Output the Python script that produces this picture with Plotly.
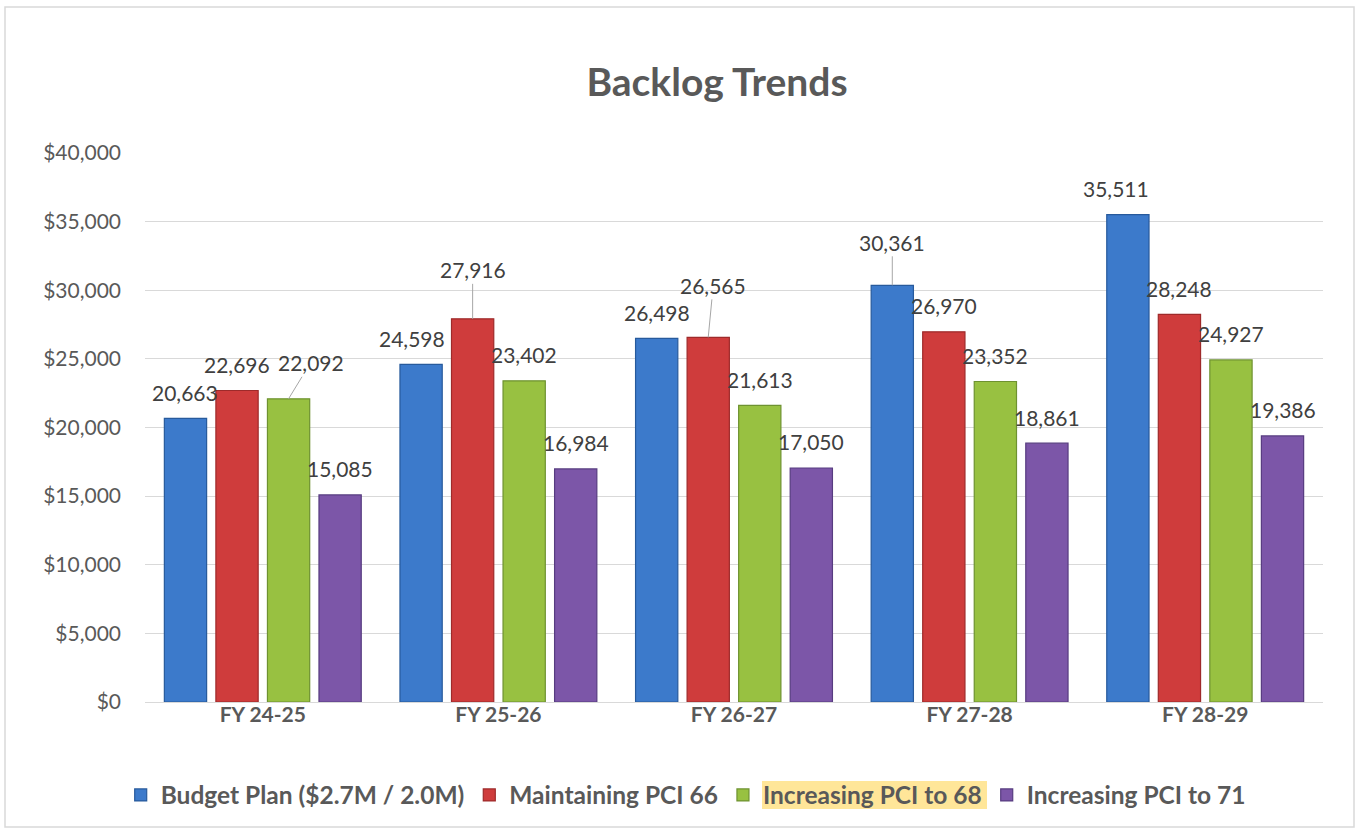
import plotly.graph_objects as go

# ---- data -------------------------------------------------------------
years = ["FY 24-25", "FY 25-26", "FY 26-27", "FY 27-28", "FY 28-29"]
series_names = [
    "Budget Plan ($2.7M / 2.0M)",
    "Maintaining PCI 66",
    "Increasing PCI to 68",
    "Increasing PCI to 71",
]
budget_plan = [20663, 24598, 26498, 30361, 35511]
maintain_66 = [22696, 27916, 26565, 26970, 28248]
increase_68 = [22092, 23402, 21613, 23352, 24927]
increase_71 = [15085, 16984, 17050, 18861, 19386]
y_ticks = [0, 5000, 10000, 15000, 20000, 25000, 30000, 35000, 40000]

all_values = [budget_plan, maintain_66, increase_68, increase_71]

# ---- styling ----------------------------------------------------------
fills = ["#3C7ACB", "#CF3C3C", "#98C141", "#7C56A8"]
edges = ["#275A9C", "#9E2A2A", "#6E9230", "#573C80"]

W, H = 1359, 832
ML, MR, MT, MB = 145, 36, 153, 130
BARGAP, GROUPGAP = 0.125, 0.18
FONT = "Lato"

# label offsets (dx, dy in px, leader line flag) per series / year
label_pos = {
    (0, 1): (-9, -26, False),
    (1, 0): (0, -26, False),
    (2, 0): (22, -36, True),
    (1, 1): (0, -49, True),
    (1, 2): (5, -52, True),
    (0, 3): (0, -43, True),
    (0, 4): (-12, -26, False),
}

fig = go.Figure()
for i, (name, vals) in enumerate(zip(series_names, all_values)):
    fig.add_trace(go.Bar(
        x=years, y=vals, name=name,
        marker=dict(color=fills[i], line=dict(color=edges[i], width=1.2)),
        hoverinfo="x+y+name",
    ))

# value labels above each bar
plot_w = W - ML - MR
pitch = plot_w / len(years) * (1 - BARGAP) / len(series_names)
annotations = []
for i, vals in enumerate(all_values):
    xs = (i - (len(series_names) - 1) / 2) * pitch
    for j, v in enumerate(vals):
        dx, dy, leader = label_pos.get((i, j), (0, -26, False))
        txt = f"{v:,}"
        font = dict(family=FONT, size=21, color="#404040")
        if leader:
            annotations.append(dict(
                x=years[j], y=v, xref="x", yref="y", xshift=xs,
                text=txt, font=font, showarrow=True, arrowhead=0,
                arrowwidth=1, arrowcolor="#A6A6A6", ax=dx, ay=dy,
                standoff=0,
            ))
        else:
            annotations.append(dict(
                x=years[j], y=v, xref="x", yref="y",
                xshift=xs + dx, yshift=-dy, yanchor="middle",
                text=txt, font=font, showarrow=False,
            ))

def px_x(p):
    return (p - ML) / plot_w

def px_y(p):
    return (H - MB - p) / (H - MT - MB)

shapes = [
    # outer chart border
    dict(type="rect", xref="paper", yref="paper",
         x0=px_x(5), x1=px_x(1354), y0=px_y(827), y1=px_y(7),
         line=dict(color="#D9D9D9", width=1.5), fillcolor="rgba(0,0,0,0)",
         layer="below"),
    # highlight behind the third legend entry
    dict(type="rect", xref="paper", yref="paper",
         x0=px_x(762), x1=px_x(987), y0=px_y(809), y1=px_y(781),
         line=dict(width=0), fillcolor="#FFE699", layer="above"),
]

fig.update_layout(
    width=W, height=H,
    margin=dict(l=ML, r=MR, t=MT, b=MB),
    paper_bgcolor="white", plot_bgcolor="white",
    barmode="group", bargap=BARGAP, bargroupgap=GROUPGAP,
    title=dict(text="<b>Backlog Trends</b>", x=717 / W, xanchor="center",
               y=1 - 82 / H, yanchor="middle",
               font=dict(family=FONT, size=39, color="#595959")),
    font=dict(family=FONT, color="#595959"),
    showlegend=True,
    legend=dict(orientation="h", x=0.459, xanchor="center",
                y=px_y(795), yanchor="middle",
                font=dict(family=FONT, size=24.5, color="#595959",
                          weight="bold"),
                itemwidth=30, bgcolor="rgba(0,0,0,0)"),
    annotations=annotations,
    shapes=shapes,
)
fig.update_xaxes(
    showgrid=False, showline=True, linecolor="#D9D9D9", linewidth=1,
    ticks="", tickfont=dict(family=FONT, size=21, color="#595959",
                            weight="bold"),
    ticklabelstandoff=-6,
)
fig.update_yaxes(
    range=[0, 40000], tickvals=y_ticks,
    ticktext=[f"${v:,}" for v in y_ticks],
    showgrid=True, gridcolor="#D9D9D9", gridwidth=1,
    zeroline=False, showline=False, ticks="",
    tickfont=dict(family=FONT, size=21, color="#595959"),
    ticklabelstandoff=23,
)

fig.write_html("out.html")
